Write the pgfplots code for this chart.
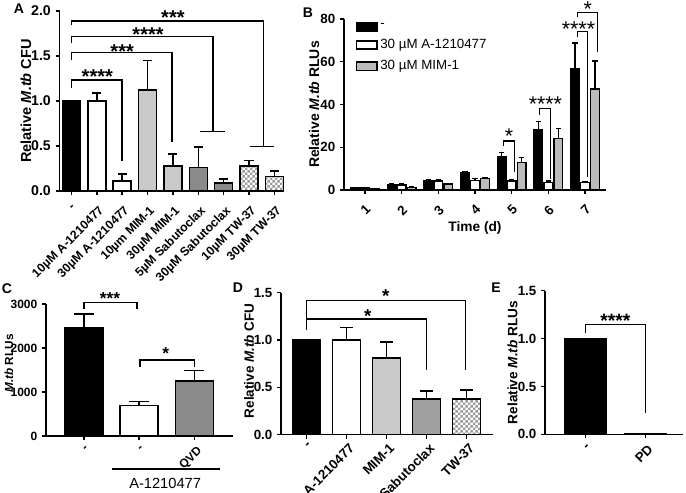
\documentclass[border=0pt]{standalone}
\usepackage{pgfplots}
\pgfplotsset{compat=1.18}
\usepackage{fontspec}
\setmainfont{Liberation Sans}
\usetikzlibrary{patterns}
\definecolor{lg}{HTML}{CACACA}
\definecolor{dg}{HTML}{8A8A8A}
\definecolor{bg}{HTML}{BBBBBB}
\definecolor{chkc}{HTML}{9C9C9C}
\definecolor{dsab}{HTML}{A0A0A0}

\pgfdeclarepatternformonly{smallchk}{\pgfpointorigin}{\pgfqpoint{4pt}{4pt}}{\pgfqpoint{4pt}{4pt}}{%
  \pgfpathrectangle{\pgfpointorigin}{\pgfqpoint{2pt}{2pt}}%
  \pgfpathrectangle{\pgfqpoint{2pt}{2pt}}{\pgfqpoint{2pt}{2pt}}%
  \pgfusepath{fill}}

\newcommand{\lf}{\fontsize{10}{12}\selectfont}
\tikzset{brk/.style={line width=1.1pt, line join=miter}}
\pgfplotsset{
  panel/.style={
    scale only axis, anchor=south west, clip=false,
    axis lines=left, axis line style={line width=1.2pt,-},
    ymin=0, ybar,
    tick align=outside, major tick length=3pt,
    tick style={black, line width=1.1pt},
    tick label style={font=\bfseries\fontsize{10}{12}\selectfont},
    ylabel style={anchor=center, font=\bfseries\fontsize{10.5}{12}\selectfont},
    error bars/y dir=plus, error bars/y explicit,
    error bars/error bar style={line width=1.1pt, black},
    error bars/error mark options={rotate=90, line width=1.1pt, black, mark size=3.4pt},
  },
  bk/.style={draw=black, line width=1.1pt, bar shift=0pt},
  chk/.style={bk, preaction={fill=white}, pattern=smallchk, pattern color=chkc},
}

\begin{document}
\begin{tikzpicture}
\useasboundingbox (0,0) rectangle (514.5pt,-369.75pt);

% ---------------- Panel A ----------------
\begin{axis}[panel, at={(44.625pt,-143.25pt)}, width=166.875pt, height=135pt,
  xmin=-0.47, xmax=8.3, ymax=2, bar width=13.5pt,
  xtick={0,1,2,3,4,5,6,7,8},
  xticklabels={-,10µM A-1210477,30µM A-1210477,10µm MIM-1,30µM MIM-1,5µM Sabutoclax,30µM Sabutoclax,10µM TW-37,30µM TW-37},
  x tick label style={yshift=-6pt, xshift=1pt, rotate=45, anchor=north east, inner sep=1pt, font=\bfseries\fontsize{9.2}{11}\selectfont},
  ytick={0,0.5,1,1.5,2}, yticklabels={0.0,0.5,1.0,1.5,2.0},
  y tick label style={font=\bfseries\fontsize{10.6}{12}\selectfont},
  ylabel={Relative \textit{M.tb} CFU},
  ylabel style={at={(axis description cs:-0.1506,0.5)}, font=\bfseries\fontsize{10.9}{12}\selectfont},
]
\addplot[bk, fill=black] coordinates {(0,1.0) +- (0,0)};
\addplot[bk, fill=white] coordinates {(1,1.0) +- (0,0.09) (2,0.11) +- (0,0.08)};
\addplot[bk, fill=lg] coordinates {(3,1.12) +- (0,0.33) (4,0.28) +- (0,0.13)};
\addplot[bk, fill=dg] coordinates {(5,0.26) +- (0,0.23) (6,0.09) +- (0,0.045)};
\addplot[chk] coordinates {(7,0.28) +- (0,0.06) (8,0.16) +- (0,0.06)};
\draw[brk] (axis cs:0,1.141) -- (axis cs:0,1.233) -- (axis cs:2,1.233) -- (axis cs:2,0.333);
\draw[brk] (axis cs:0,1.456) -- (axis cs:0,1.537) -- (axis cs:3.96,1.537) -- (axis cs:3.96,0.548);
\draw[brk] (axis cs:0,1.65) -- (axis cs:0,1.714) -- (axis cs:5.58,1.714) -- (axis cs:5.58,0.659);
\draw[brk] (axis cs:5.06,0.659) -- (axis cs:6.04,0.659);
\draw[brk] (axis cs:0,1.84) -- (axis cs:0,1.89) -- (axis cs:7.58,1.89) -- (axis cs:7.58,0.492);
\draw[brk] (axis cs:7.02,0.492) -- (axis cs:8.0,0.492);
\begin{scope}[every node/.style={inner sep=0pt, anchor=center, yshift=-3.2pt, font=\bfseries\fontsize{15}{15}\selectfont}]
\node at (axis cs:1.02,1.322) {****};
\node at (axis cs:2.0,1.6) {***};
\node at (axis cs:3.02,1.789) {****};
\node at (axis cs:4.0,1.978) {***};
\end{scope}
\end{axis}

% ---------------- Panel B ----------------
\begin{axis}[panel, at={(258pt,-142.5pt)}, width=196.5pt, height=128.25pt,
  xmin=0.43, xmax=7.57, ymax=80, bar width=6.4pt,
  xtick={1,2,3,4,5,6,7}, xticklabels={1,2,3,4,5,6,7},
  x tick label style={yshift=-6pt, rotate=45, anchor=north east, inner sep=1pt, font=\bfseries\fontsize{10}{12}\selectfont},
  ytick={0,20,40,60,80}, yticklabels={0,20,40,60,80},
  ylabel={Relative \textit{M.tb} RLUs},
  ylabel style={at={(axis description cs:-0.1145,0.5)}, font=\bfseries\fontsize{10.5}{12}\selectfont},
  xlabel={Time (d)},
  xlabel style={at={(axis description cs:0.5,-0.222)}, anchor=center, font=\bfseries\fontsize{10.3}{12}\selectfont},
  error bars/error mark options={rotate=90, line width=1pt, black, mark size=2pt},
  error bars/error bar style={line width=1pt, black},
  legend image code/.code={\draw[#1, line width=1.1pt] (0pt,-3.1pt) rectangle (15.5pt,3.1pt);},
  legend style={at={(0.043,0.99)}, anchor=north west, draw=none, fill=none, inner sep=0pt,
    font=\lf, row sep=3.3pt},
  legend cell align=left,
]
\addplot[bk, line width=1pt, fill=black, bar shift=-7.5pt] coordinates {
 (1,1.0) +- (0,0.1) (2,2.6) +- (0,0.2) (3,4.4) +- (0,0.3) (4,8.2) +- (0,0.5)
 (5,15.4) +- (0,2.0) (6,28.0) +- (0,3.9) (7,56.7) +- (0,12.1)};
\addlegendentry{-}
\addplot[bk, line width=1pt, fill=white, bar shift=0pt] coordinates {
 (1,1.0) +- (0,0.3) (2,2.3) +- (0,0.5) (3,4.2) +- (0,0.8) (4,4.5) +- (0,0.8)
 (5,4.2) +- (0,0.8) (6,3.6) +- (0,0.6) (7,3.4) +- (0,0.6)};
\addlegendentry{30 µM A-1210477}
\addplot[bk, line width=1pt, fill=bg, bar shift=7.5pt] coordinates {
 (1,0.5) +- (0,0.1) (2,1.3) +- (0,0.1) (3,2.8) +- (0,0.2) (4,5.5) +- (0,0.3)
 (5,12.9) +- (0,2.2) (6,24.2) +- (0,4.6) (7,47.3) +- (0,13.0)};
\addlegendentry{30 µM MIM-1}
\draw[brk, line width=0.9pt] (axis cs:4.77,20.5) -- (axis cs:4.77,22.9) -- (axis cs:5.07,22.9) -- (axis cs:5.07,8.4);
\draw[brk, line width=0.9pt] (axis cs:5.75,35) -- (axis cs:5.75,38.3) -- (axis cs:6.05,38.3) -- (axis cs:6.05,5.1);
\draw[brk, line width=0.9pt] (axis cs:6.79,71.5) -- (axis cs:6.79,74.3) -- (axis cs:7.07,74.3) -- (axis cs:7.07,6);
\draw[brk, line width=0.9pt] (axis cs:6.79,80.8) -- (axis cs:6.79,83.2) -- (axis cs:7.34,83.2) -- (axis cs:7.34,64.5);
\begin{scope}[every node/.style={inner sep=0pt, anchor=center, yshift=-3.4pt, font=\fontsize{16}{16}\selectfont}]
\node at (axis cs:4.93,27.1) {*};
\node at (axis cs:5.92,42.1) {****};
\node at (axis cs:6.82,77.2) {****};
\node at (axis cs:7.07,86.5) {*};
\end{scope}
\end{axis}

% ---------------- Panel C ----------------
\begin{axis}[panel, at={(34.5pt,-327pt)}, width=140.25pt, height=99pt,
  xmin=-0.69, xmax=2.70, ymax=3000, bar width=28.5pt,
  xtick={0,1,2}, xticklabels={-,-,QVD},
  tick label style={font=\bfseries\fontsize{9}{11}\selectfont},
  x tick label style={yshift=-2.5pt, xshift=1.5pt, rotate=45, anchor=north east, inner sep=1pt},
  ytick={0,1000,2000,3000}, yticklabels={0,1000,2000,3000},
  ylabel={\textit{M.tb} RLUs},
  ylabel style={at={(axis description cs:-0.198,0.55)}, font=\bfseries\fontsize{8.8}{11}\selectfont},
  error bars/error mark options={rotate=90, line width=1.1pt, black, mark size=7.5pt},
]
\addplot[bk, fill=black] coordinates {(0,2450) +- (0,320)};
\addplot[bk, fill=white] coordinates {(1,690) +- (0,100)};
\addplot[bk, fill=dg] coordinates {(2,1245) +- (0,245)};
\draw[brk] (axis cs:0,2885) -- (axis cs:0,3030) -- (axis cs:0.96,3030) -- (axis cs:0.96,2885);
\draw[brk] (axis cs:1.01,1568) -- (axis cs:1.01,1730) -- (axis cs:2,1730) -- (axis cs:2,1568);
\draw[line width=1.1pt] (axis cs:0.51,-750) -- (axis cs:2.46,-750);
\node[font=\fontsize{11}{12}\selectfont] at (axis cs:1.47,-1075) {A-1210477};
\begin{scope}[every node/.style={inner sep=0pt, anchor=center, yshift=-2.8pt, font=\bfseries\fontsize{13}{13}\selectfont}]
\node at (axis cs:0.47,3205) {***};
\node at (axis cs:1.48,1955) {*};
\end{scope}
\end{axis}

% ---------------- Panel D ----------------
\begin{axis}[panel, at={(210.75pt,-325.875pt)}, width=159pt, height=106.35pt,
  xmin=-0.64, xmax=4.66, ymax=1.5, bar width=21pt,
  xtick={0,1,2,3,4}, xticklabels={-,A-1210477,MIM-1,Sabutoclax,TW-37},
  x tick label style={yshift=-1.5pt, xshift=1.5pt, rotate=45, anchor=north east, inner sep=1pt},
  ytick={0,0.5,1,1.5}, yticklabels={0.0,0.5,1.0,1.5},
  ylabel={Relative \textit{M.tb} CFU},
  ylabel style={at={(axis description cs:-0.151,0.52)}, font=\bfseries\fontsize{10.1}{12}\selectfont},
  error bars/error mark options={rotate=90, line width=1.1pt, black, mark size=4.9pt},
]
\addplot[bk, fill=black] coordinates {(0,1.0) +- (0,0)};
\addplot[bk, fill=white] coordinates {(1,1.0) +- (0,0.13)};
\addplot[bk, fill=lg] coordinates {(2,0.81) +- (0,0.17)};
\addplot[bk, fill=dsab] coordinates {(3,0.375) +- (0,0.085)};
\addplot[chk] coordinates {(4,0.375) +- (0,0.095)};
\draw[brk] (axis cs:0,1.105) -- (axis cs:0,1.22) -- (axis cs:3.0,1.22) -- (axis cs:3.0,0.68);
\draw[brk] (axis cs:0,1.105) -- (axis cs:0,1.42) -- (axis cs:3.97,1.42) -- (axis cs:3.97,0.68);
\begin{scope}[every node/.style={inner sep=0pt, anchor=center, yshift=-3pt, font=\bfseries\fontsize{14}{14}\selectfont}]
\node at (axis cs:1.53,1.30) {*};
\node at (axis cs:1.98,1.51) {*};
\end{scope}
\end{axis}

% ---------------- Panel E ----------------
\begin{axis}[panel, at={(408.75pt,-325.725pt)}, width=103.5pt, height=107.7pt,
  xmin=-0.675, xmax=1.63, ymax=1.5, bar width=30.75pt,
  xtick={0,1}, xticklabels={-,PD},
  x tick label style={yshift=-2.5pt, xshift=1.5pt, rotate=45, anchor=north east, inner sep=1pt},
  ytick={0,0.5,1,1.5}, yticklabels={0.0,0.5,1.0,1.5},
  ylabel={Relative \textit{M.tb} RLUs},
  ylabel style={at={(axis description cs:-0.2355,0.5)}, font=\bfseries\fontsize{10.2}{12}\selectfont},
]
\addplot[bk, fill=black] coordinates {(0,1.0) +- (0,0)};
\addplot[bk, fill=white] coordinates {(1,0.008) +- (0,0)};
\draw[brk] (axis cs:0,1.058) -- (axis cs:0,1.146) -- (axis cs:1,1.146) -- (axis cs:1,0.22);
\node[inner sep=0pt, anchor=center, yshift=-3.1pt, font=\bfseries\fontsize{14.5}{14.5}\selectfont] at (axis cs:0.5,1.23) {****};
\end{axis}

% panel letters
\begin{scope}[every node/.style={inner sep=0pt, anchor=center, font=\bfseries\fontsize{10.5}{12}\selectfont}]
\node at (14.25pt,-6.4pt) {A};
\node at (231pt,-9.4pt) {B};
\node at (5.25pt,-216.75pt) {C};
\node at (178.5pt,-216pt) {D};
\node at (372pt,-216pt) {E};
\end{scope}
\end{tikzpicture}
\end{document}
